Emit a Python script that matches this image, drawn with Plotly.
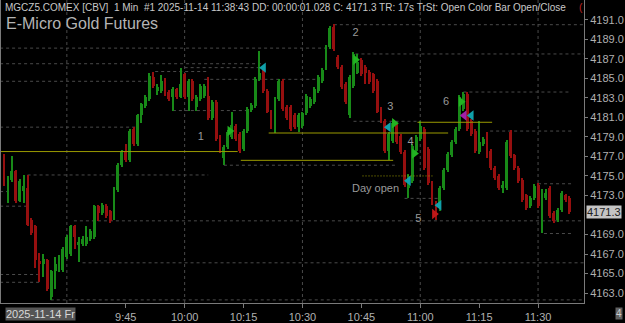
import plotly.graph_objects as go

# ---- data (bar index = minutes since 09:13) ----
bar_index = list(range(1, 146))
opens = [4177.1,4174.3,4174.6,4175.5,4172.4,4173.5,4173.8,4170.5,4169.9,4166.3,4166.0,4166.4,4162.6,4165.3,4165.4,
         4165.4,4166.7,4167.0,4169.9,4167.9,4168.0,4168.0,4168.5,4168.7,4171.9,4171.2,4171.9,4171.4,4171.0,4173.6,
         4176.1,4177.5,4176.6,4179.8,4178.3,4181.2,4182.2,4182.9,4185.1,4183.7,4183.7,4184.9,4183.6,4183.1,4183.9,
         4183.1,4185.4,4183.1,4184.7,4182.1,4182.9,4183.2,4183.2,4180.9,4182.6,4179.0,4176.8,4178.0,4179.0,4180.1,
         4179.3,4177.8,4179.6,4181.8,4182.2,4184.9,4185.9,4183.7,4181.6,4180.1,4182.9,4184.7,4182.1,4182.1,4181.2,
         4180.0,4180.1,4181.4,4182.2,4182.6,4183.7,4184.7,4186.1,4188.2,4190.3,4187.2,4186.2,4184.4,4181.2,4184.2,
         4185.6,4186.9,4186.2,4185.7,4185.4,4184.7,4181.9,4180.6,4177.6,4178.6,4180.1,4179.1,4177.5,4173.8,4174.5,
         4177.6,4178.8,4179.8,4177.8,4174.3,4172.2,4171.7,4173.8,4175.6,4177.1,4178.5,4179.8,4181.9,4183.4,4180.6,
         4179.6,4177.5,4178.3,4179.3,4177.6,4175.8,4175.0,4173.8,4173.8,4179.5,4177.1,4175.8,4174.6,4173.0,4171.9,
         4172.7,4174.1,4171.9,4172.7,4173.8,4171.2,4170.5,4171.5,4173.0,4172.7]
highs = [4177.2,4175.0,4177.0,4175.6,4174.7,4175.1,4175.1,4170.7,4170.0,4167.1,4167.0,4166.5,4165.4,4166.7,4166.9,
         4167.7,4168.9,4170.0,4170.0,4168.7,4168.8,4169.9,4169.6,4172.0,4172.0,4172.2,4172.1,4171.5,4173.9,4176.3,
         4177.7,4178.3,4179.8,4180.0,4181.3,4182.5,4183.3,4185.5,4185.7,4184.4,4185.3,4185.0,4183.8,4184.1,4184.0,
         4186.1,4185.6,4184.9,4184.9,4183.3,4184.4,4184.4,4185.1,4182.8,4182.8,4179.2,4178.2,4179.7,4181.6,4180.3,
         4179.5,4179.8,4182.1,4182.5,4185.1,4187.8,4186.1,4183.9,4181.8,4183.1,4184.9,4184.9,4182.3,4182.3,4181.4,
         4181.4,4181.6,4183.4,4183.1,4184.1,4185.3,4186.1,4188.4,4190.4,4190.6,4187.4,4186.4,4184.6,4185.3,4187.7,
         4187.5,4187.1,4186.4,4185.9,4185.6,4184.9,4182.1,4180.8,4179.5,4180.6,4180.3,4179.3,4177.7,4175.2,4178.3,
         4179.2,4180.6,4180.0,4178.0,4174.5,4172.4,4174.0,4175.8,4177.5,4178.7,4180.0,4183.3,4183.6,4183.6,4180.8,
         4179.8,4180.6,4179.0,4179.5,4177.8,4176.0,4175.2,4174.5,4178.7,4179.7,4177.3,4176.0,4174.8,4173.2,4172.9,
         4174.2,4174.3,4173.7,4173.7,4174.0,4171.4,4171.7,4173.5,4173.2,4172.9]
lows = [4174.0,4172.2,4174.4,4172.2,4172.3,4172.2,4169.9,4169.0,4165.6,4164.1,4164.6,4163.2,4162.3,4163.4,4165.2,
        4165.2,4166.5,4166.8,4167.5,4166.2,4167.8,4167.8,4168.3,4168.5,4170.4,4171.0,4170.7,4170.2,4170.5,4173.4,
        4175.9,4176.4,4176.4,4178.1,4178.1,4180.4,4182.0,4182.7,4184.0,4183.3,4183.5,4183.2,4182.7,4181.7,4182.9,
        4183.0,4182.9,4181.7,4182.7,4181.7,4182.7,4183.0,4180.7,4180.7,4178.6,4177.4,4176.1,4177.8,4178.8,4178.6,
        4177.4,4177.6,4179.4,4181.6,4182.0,4184.7,4183.5,4181.4,4179.8,4179.4,4182.7,4181.7,4180.7,4179.6,4179.8,
        4179.5,4179.9,4181.2,4182.0,4182.4,4183.5,4184.5,4185.9,4188.0,4187.8,4186.0,4183.9,4182.4,4180.9,4184.0,
        4185.4,4185.2,4184.4,4184.4,4183.5,4181.4,4180.4,4177.4,4176.6,4178.4,4178.3,4177.3,4173.9,4172.7,4174.3,
        4177.4,4178.6,4175.6,4174.1,4172.0,4170.5,4171.4,4173.6,4175.4,4176.9,4178.3,4179.6,4181.7,4179.6,4179.1,
        4177.4,4177.3,4178.1,4176.8,4175.6,4174.6,4173.6,4173.3,4173.6,4176.8,4175.6,4174.3,4172.3,4171.5,4171.7,
        4172.5,4171.7,4169.2,4172.5,4170.7,4170.2,4170.3,4171.3,4172.3,4171.1]
closes = [4174.3,4174.8,4175.5,4172.4,4174.5,4174.0,4170.0,4169.2,4166.4,4166.0,4166.5,4163.4,4165.3,4166.0,4166.7,
          4167.5,4168.7,4169.9,4168.7,4168.2,4168.5,4168.7,4169.4,4171.9,4171.2,4172.0,4170.9,4170.4,4173.8,4176.1,
          4177.5,4176.6,4179.6,4178.3,4181.2,4182.4,4183.1,4185.2,4184.2,4184.1,4184.7,4183.4,4182.9,4183.9,4183.1,
          4184.4,4183.1,4184.7,4182.9,4183.1,4184.2,4184.2,4180.9,4182.6,4178.8,4177.8,4178.0,4179.5,4180.2,4178.8,
          4177.6,4179.6,4181.9,4182.3,4184.9,4185.6,4183.7,4181.6,4180.0,4182.9,4184.7,4181.9,4180.9,4179.8,4180.0,
          4181.2,4181.4,4183.2,4182.9,4183.9,4185.1,4185.9,4188.2,4190.2,4188.0,4186.2,4184.1,4182.6,4185.1,4187.5,
          4186.7,4185.4,4185.6,4184.6,4183.7,4181.6,4180.6,4177.6,4179.3,4180.4,4178.5,4177.5,4174.1,4175.0,4178.1,
          4179.0,4180.1,4175.8,4174.3,4172.2,4171.1,4173.8,4175.6,4177.3,4178.5,4179.8,4183.1,4183.4,4179.8,4179.3,
          4177.6,4178.5,4178.8,4177.0,4175.8,4174.8,4173.8,4174.1,4178.5,4177.0,4175.8,4174.5,4172.5,4171.7,4172.7,
          4174.0,4171.9,4173.5,4173.3,4170.9,4170.4,4171.5,4173.3,4172.5,4171.3]

tick_minutes = [32, 47, 62, 77, 92, 107, 122, 137]
tick_labels = ["9:45", "10:00", "10:15", "10:30", "10:45", "11:00", "11:15", "11:30"]
grid_minutes = [17, 47, 77, 107, 137]
price_ticks = [4163, 4165, 4167, 4169, 4173, 4175, 4177, 4179, 4181, 4183, 4185, 4187, 4189, 4191]
last_price = 4171.3

# swing level (dashed) lines: price, start, end
lvl_price = [4190.5, 4188.1, 4186.5, 4186.1, 4187.5, 4184.7, 4184.9, 4185.7, 4181.7, 4180.0, 4183.6, 4180.6,
             4179.6, 4176.1, 4175.1, 4173.4, 4171.9, 4170.4, 4166.1, 4162.3, 4164.9, 4164.1, 4172.7, 4174.2, 4169.1]
lvl_start = [85, 0, 0, 47, 90.5, 0, 52, 39.5, 44, 0, 118, 90, 124.8, 57, 7, 0, 0, 18.8, 21, 12.9, 0, 0, 103, 137, 138.5]
lvl_end = [148.7, 84, 66.5, 66.5, 148.7, 38, 81.5, 53, 63, 34.5, 145.5, 107, 145.5, 101, 53, 2.2, 7, 148.7, 148.7,
           148.7, 9.6, 10.4, 112, 145.5, 145.5]

# yellow solid lines
ylw_price = [4177.5, 4179.4, 4176.6, 4180.5]
ylw_start = [0.23, 68.4, 61.3, 106.3]
ylw_end = [60.5, 114.1, 100.1, 125.3]
day_open_price = 4175.0
day_open_span = [92.3, 110.1]

# signal arrows
arr_x = [58.5, 67.1, 90.5, 98.9, 100.4, 104.0, 105.5, 110.6, 111.8, 117.4, 118.2, 120.0]
arr_y = [4179.6, 4186.1, 4186.9, 4180.0, 4180.4, 4174.5, 4177.3, 4171.1, 4172.0, 4182.6, 4181.2, 4181.2]
arr_sym = ["triangle-right", "triangle-left", "triangle-right", "triangle-left", "triangle-right", "triangle-left",
           "triangle-right", "triangle-right", "triangle-left", "triangle-right", "triangle-left", "triangle-left"]
arr_col = ["#22b422", "#10a0aa", "#22b422", "#10a0aa", "#22b422", "#10a0aa",
           "#22b422", "#c01818", "#10a0aa", "#22b422", "#a020a8", "#10a0aa"]

# wave labels
lab_text = ["1", "2", "3", "4", "5", "6", "Day open"]
lab_x = [51.1, 90.5, 99.4, 104.5, 106.5, 113.6, 95.6]
lab_y = [4179.0, 4189.6, 4182.0, 4178.5, 4170.6, 4182.6, 4173.6]

header = "MGCZ5.COMEX [CBV]  1 Min  #1 2025-11-14 11:38:43 DD: 00:00:01.028 C: 4171.3 TR: 17s TrSt: Open Color Bar Open/Close"
title = "E-Micro Gold Futures"
date_label = "2025-11-14 Fr"

UP = "#188a18"
DN = "#960f0f"
YLW = "#9a9a00"

# ---- figure ----
cols = [UP if c >= o else DN for o, c in zip(opens, closes)]
fig = go.Figure()
fig.add_trace(go.Bar(x=bar_index, y=[h - l for h, l in zip(highs, lows)], base=lows, width=0.27,
                     marker=dict(color=cols, line=dict(width=0)), hoverinfo="skip"))
fig.add_trace(go.Bar(x=bar_index, y=[abs(c - o) for o, c in zip(opens, closes)],
                     base=[min(o, c) for o, c in zip(opens, closes)], width=0.74,
                     marker=dict(color=cols, line=dict(width=0)), hoverinfo="skip"))

shapes = []
for g in grid_minutes:
    shapes.append(dict(type="line", xref="x", yref="paper", x0=g, x1=g, y0=0, y1=1,
                       line=dict(color="#4a4a4a", width=1, dash="dot"), layer="below"))
for p, s, e in zip(lvl_price, lvl_start, lvl_end):
    shapes.append(dict(type="line", xref="x", yref="y", x0=s, x1=e, y0=p, y1=p,
                       line=dict(color="#4a4a4a", width=1, dash="3px,3px"), layer="below"))
for p, s, e in zip(ylw_price, ylw_start, ylw_end):
    shapes.append(dict(type="line", xref="x", yref="y", x0=s, x1=e, y0=p, y1=p,
                       line=dict(color=YLW, width=1)))
shapes.append(dict(type="line", xref="x", yref="y", x0=day_open_span[0], x1=day_open_span[1],
                   y0=day_open_price, y1=day_open_price, line=dict(color=YLW, width=1, dash="1px,2px")))

fig.add_trace(go.Scatter(x=arr_x, y=arr_y, mode="markers",
                         marker=dict(symbol=arr_sym, color=arr_col, size=9, line=dict(width=0)),
                         hoverinfo="skip"))
fig.add_trace(go.Scatter(x=lab_x, y=lab_y, mode="text", text=lab_text,
                         textfont=dict(family="Liberation Sans, Arial", size=11, color="#9a9a9a"),
                         hoverinfo="skip"))

annotations = [
    dict(xref="paper", yref="paper", x=0, y=1, xanchor="left", yanchor="top", xshift=2, yshift=0,
         text=header, showarrow=False, font=dict(family="Liberation Sans, Arial", size=10, color="#c8c8c8")),
    dict(xref="paper", yref="paper", x=0, y=1, xanchor="left", yanchor="top", xshift=3, yshift=-13,
         text=title, showarrow=False, font=dict(family="Liberation Sans, Arial", size=16, color="#b4b4b4")),
    dict(xref="paper", yref="paper", x=1, y=1, xanchor="right", yanchor="top", xshift=1, yshift=0,
         text="(", showarrow=False, font=dict(family="Liberation Sans, Arial", size=10, color="#c02020")),
    dict(xref="paper", yref="y", x=1, y=last_price, xanchor="left", yanchor="middle", xshift=2,
         text=f"{last_price:.1f}", showarrow=False, bgcolor="#c4c4c4", borderpad=0,
         font=dict(family="Liberation Sans, Arial", size=11, color="#202020")),
    dict(xref="paper", yref="paper", x=0, y=0, xanchor="left", yanchor="top", xshift=4, yshift=-4,
         text=date_label, showarrow=False, bgcolor="#555555", borderpad=0,
         font=dict(family="Liberation Sans, Arial", size=11, color="#d8d8d8")),
    dict(xref="paper", yref="paper", x=1, y=0, xanchor="left", yanchor="top", xshift=31, yshift=-4,
         text="4", showarrow=False, bgcolor="#606060", borderpad=0,
         font=dict(family="Liberation Sans, Arial", size=10, color="#cccccc")),
]

fig.update_layout(
    width=625, height=323, margin=dict(l=0, r=41, t=0, b=17),
    paper_bgcolor="#000000", plot_bgcolor="#000000", showlegend=False, barmode="overlay",
    bargap=0, shapes=shapes, annotations=annotations,
    xaxis=dict(range=[0.23, 148.7], showgrid=False, zeroline=False, showline=True, linecolor="#7a7a7a",
               ticks="outside", ticklen=4, tickcolor="#7a7a7a", tickvals=tick_minutes, ticktext=tick_labels,
               tickfont=dict(family="Liberation Sans, Arial", size=11, color="#b0b0b0"), fixedrange=True),
    yaxis=dict(side="right", range=[4161.98, 4193.03], showgrid=False, zeroline=False, showline=True,
               mirror=True, linecolor="#7a7a7a", ticks="outside", ticklen=3, tickcolor="#7a7a7a",
               tickvals=price_ticks, ticktext=[f"{v:.1f}" for v in price_ticks],
               tickfont=dict(family="Liberation Sans, Arial", size=11, color="#b0b0b0"), fixedrange=True),
)

fig.write_html("out.html")
